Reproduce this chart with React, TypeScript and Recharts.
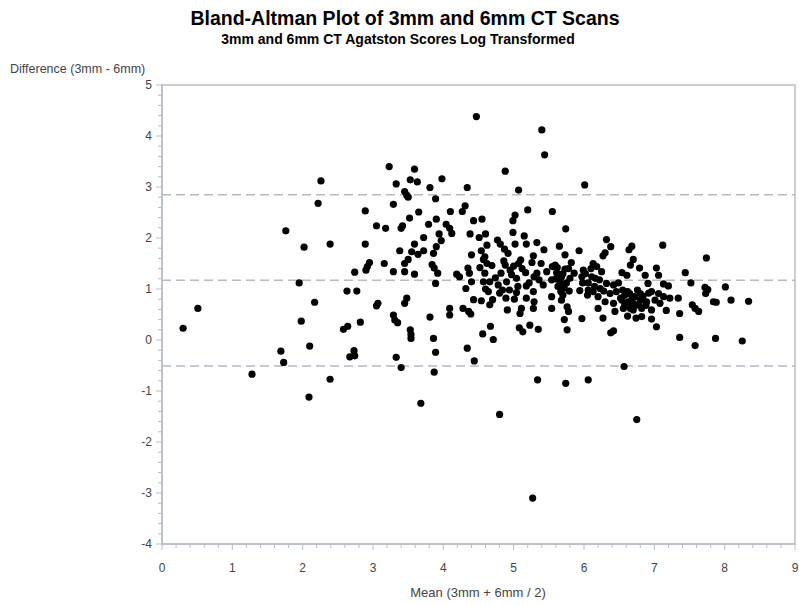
import React from 'react';
import { ScatterChart, Scatter, XAxis, YAxis, ReferenceLine, ReferenceArea } from 'recharts';

// mean of the two log scores (x) and their difference (y)
const meanScores = [
  0.30, 0.51, 1.28, 1.69, 1.73, 1.76, 1.95, 1.98, 2.02, 2.10, 2.09, 2.17, 2.22, 2.26, 2.39, 2.39,
  2.58, 2.64, 2.63, 2.74, 2.77, 2.82, 2.67, 2.74, 2.73, 2.89, 2.89, 2.90, 2.92, 2.95, 3.05, 3.05,
  3.07,
  4.47, 5.40, 5.44, 3.23, 3.59, 3.53, 3.63, 3.33, 3.98, 3.81, 4.34, 4.88, 5.07, 6.01, 3.45, 3.48,
  3.50, 3.89, 3.29, 4.31, 4.27, 4.10, 3.65, 5.20, 5.55, 5.02, 4.99, 3.52, 3.90, 3.79, 4.04, 4.43,
  4.55, 3.18, 3.40, 3.42, 4.09, 4.12, 4.38, 4.60, 4.99, 5.74, 3.94, 3.72, 3.97, 4.51, 4.77, 5.15,
  3.59, 3.90, 4.62, 4.81, 5.02, 5.18, 5.33, 5.65, 3.38, 3.55, 3.72, 3.86, 4.40, 4.54, 4.87, 4.92,
  5.43, 5.93, 3.64, 3.16, 3.50, 4.57, 4.59, 5.10, 5.28, 5.73, 3.45, 3.84, 4.62, 5.07, 5.39, 5.59,
  5.82, 4.35, 4.69, 4.88, 3.29, 3.45, 3.59, 3.87, 3.92, 4.19, 4.23, 4.37, 4.59, 4.82, 4.95, 4.97,
  5.17, 5.33, 5.47, 5.55, 5.61, 5.73, 5.86, 5.99, 3.89, 4.40, 4.66, 4.90, 5.04, 5.29, 5.54, 5.68,
  5.80, 5.97, 6.06, 4.32, 4.57, 4.78, 5.18, 5.42, 5.66, 5.79, 5.94, 3.48, 3.45, 4.64, 4.84, 5.04,
  5.28, 5.54, 5.67, 4.43, 4.54, 4.70, 4.89, 5.01, 5.18, 5.29, 4.66, 4.09, 4.28, 4.91, 5.11, 5.28,
  5.54, 5.76, 5.78, 3.29, 3.31, 3.35, 4.09, 4.36, 4.39, 5.09, 3.81, 5.72, 5.97, 4.67, 5.08, 5.13,
  5.23, 5.35, 5.76, 3.53, 3.54, 3.54, 3.86, 4.56, 4.71, 4.34, 3.89, 3.33, 4.44, 3.40, 3.87, 5.34,
  5.74, 6.06, 3.68, 4.80,
  6.32, 6.38, 6.30, 6.27, 6.68, 6.64, 6.70, 6.66, 7.12, 7.74, 6.13, 6.18, 6.25, 6.79, 7.03, 7.06,
  6.54, 6.61, 6.87, 7.44, 6.11, 6.16, 6.32, 6.42, 6.49, 6.91, 7.13, 7.20, 7.52, 7.72, 7.76, 8.01,
  7.73, 6.13, 6.23, 6.20, 6.37, 6.46, 6.58, 6.65, 6.72, 6.80, 6.96, 7.06, 7.13, 7.22, 7.34, 6.30,
  6.42, 6.54, 6.63, 6.70, 6.80, 6.89, 7.01, 7.08, 7.84, 7.88, 8.09, 8.34, 6.20, 6.44, 6.56, 6.70,
  6.82, 6.96, 7.17, 7.36, 7.54, 7.58, 7.63, 6.27, 6.62, 6.74, 6.82, 6.96, 7.03, 6.38, 6.42, 7.36,
  7.58, 7.87, 8.25, 6.57, 6.75,
  5.27,
  // points hidden inside the densest clusters
  5.60, 5.63, 5.66, 5.70, 5.72, 5.75, 5.70, 5.78, 5.62, 5.68,
  6.52, 6.58, 6.62, 6.68, 6.72, 6.76, 6.78, 6.84, 6.88, 6.92, 6.55, 6.66,
  5.98, 6.02, 6.06, 6.10, 6.15, 6.22, 6.28, 6.05,
  4.74, 4.80, 4.86, 4.94, 5.00, 5.06, 5.12, 5.22, 5.26, 5.36, 4.60, 4.52,
];

const diffScores = [
  0.23, 0.62, -0.67, -0.22, -0.44, 2.14, 1.12, 0.37, 1.82, -0.12, -1.12, 0.74, 2.68, 3.12, 1.88, -0.77,
  0.21, 0.27, 0.96, 1.33, 0.96, 0.35, -0.33, -0.31, -0.21, 2.53, 1.88, 1.37, 1.44, 1.52, 2.24, 0.67,
  0.72,
  4.38, 4.12, 3.63, 3.40, 3.35, 3.14, 3.10, 3.06, 3.16, 2.99, 2.99, 3.31, 2.94, 3.04, 2.91, 2.84,
  2.80, 2.77, 2.66, 2.63, 2.52, 2.52, 2.51, 2.55, 2.52, 2.45, 2.34, 2.39, 2.37, 2.27, 2.27, 2.34,
  2.37, 2.19, 2.19, 2.24, 2.19, 2.09, 2.08, 2.08, 2.11, 2.18, 2.08, 2.01, 1.95, 2.01, 1.96, 2.04,
  1.88, 1.83, 1.86, 1.88, 1.88, 1.88, 1.91, 1.84, 1.75, 1.73, 1.75, 1.70, 1.67, 1.75, 1.78, 1.70,
  1.77, 1.75, 1.68, 1.50, 1.58, 1.58, 1.63, 1.57, 1.65, 1.67, 1.50, 1.48, 1.50, 1.50, 1.50, 1.47,
  1.52, 1.41, 1.46, 1.47, 1.34, 1.34, 1.29, 1.41, 1.31, 1.29, 1.24, 1.31, 1.31, 1.31, 1.37, 1.28,
  1.32, 1.31, 1.34, 1.44, 1.32, 1.39, 1.31, 1.37, 1.11, 1.14, 1.14, 1.14, 1.21, 1.24, 1.18, 1.24,
  1.21, 1.24, 1.12, 1.01, 1.14, 1.08, 1.06, 1.08, 1.08, 0.96, 0.97, 0.82, 0.72, 0.95, 0.98, 0.93,
  0.95, 0.85, 0.95, 0.79, 0.77, 0.79, 0.82, 0.80, 0.82, 0.75, 0.69, 0.62, 0.62, 0.59, 0.62, 0.62,
  0.62, 0.65, 0.56, 0.49, 0.39, 0.34, 0.49, 0.56, 0.51, 0.52, 0.45, 0.40, 0.42, 0.27, 0.24, 0.16,
  0.29, 0.21, 0.20, 0.20, 0.11, 0.03, 0.03, 0.12, 0.01, -0.16, -0.24, -0.34, -0.41, -0.54, -0.63, -0.78,
  -0.85, -0.78, -1.24, -1.46,
  1.97, 1.83, 1.71, 1.65, 1.84, 1.77, 1.58, 1.47, 1.86, 1.61, 1.50, 1.44, 1.34, 1.41, 1.41, 1.27,
  1.32, 1.27, 1.27, 1.32, 1.24, 1.21, 1.11, 1.08, 1.12, 1.11, 1.10, 1.06, 1.12, 1.03, 0.99, 1.04,
  0.91, 0.95, 1.01, 0.85, 0.91, 0.95, 0.88, 0.91, 0.85, 0.91, 0.95, 0.91, 0.85, 0.82, 0.82, 0.75,
  0.72, 0.78, 0.75, 0.72, 0.78, 0.75, 0.78, 0.72, 0.75, 0.74, 0.78, 0.76, 0.62, 0.56, 0.62, 0.59,
  0.62, 0.59, 0.58, 0.52, 0.69, 0.62, 0.56, 0.43, 0.47, 0.43, 0.46, 0.41, 0.26, 0.14, 0.18, 0.05,
  -0.11, 0.03, -0.02, -0.52, -1.56,
  -3.10,
  1.20, 1.05, 1.15, 1.30, 1.02, 1.12, 0.88, 1.40, 1.42, 0.78,
  0.82, 0.70, 0.95, 0.80, 0.66, 0.98, 0.70, 0.86, 0.68, 0.92, 0.98, 0.62,
  1.12, 1.30, 0.98, 1.40, 1.05, 1.18, 0.96, 0.88,
  1.22, 0.92, 1.55, 0.98, 1.45, 1.05, 1.40, 1.12, 1.52, 1.18, 1.00, 1.42,
];

// upper limit, mean difference, lower limit
const agreementLines = [2.85, 1.17, -0.51];

const xMajorTicks = [0, 1, 2, 3, 4, 5, 6, 7, 8, 9];
const yMajorTicks = [-4, -3, -2, -1, 0, 1, 2, 3, 4, 5];

const withMinor = (majors: number[]) => {
  const out: number[] = [];
  majors.forEach((m, i) => {
    out.push(m);
    if (i < majors.length - 1) for (let k = 1; k < 5; k++) out.push(+(m + k * 0.2).toFixed(1));
  });
  return out;
};

const data = meanScores.map((m, i) => ({ mean: m, diff: diffScores[i] }));

const axisColor = '#b9bec4';
const textColor = '#444';
const font = '"Liberation Sans", Arial, sans-serif';

const isMajor = (v: number) => Math.abs(v - Math.round(v)) < 1e-6;

const XTick = (props: any) => {
  const { x, y, payload } = props;
  const major = isMajor(payload.value);
  return (
    <g>
      <line x1={x} y1={y} x2={x} y2={y + (major ? 6 : 4)} stroke={axisColor} />
      {major && (
        <text x={x} y={y + 28} textAnchor="middle" fontSize={12} fill={textColor} fontFamily={font}>
          {Math.round(payload.value)}
        </text>
      )}
    </g>
  );
};

const YTick = (props: any) => {
  const { x, y, payload } = props;
  const major = isMajor(payload.value);
  return (
    <g>
      <line x1={x} y1={y} x2={x - (major ? 6 : 4)} y2={y} stroke={axisColor} />
      {major && (
        <text x={x - 10} y={y + 4} textAnchor="end" fontSize={12} fill={textColor} fontFamily={font}>
          {Math.round(payload.value)}
        </text>
      )}
    </g>
  );
};

const Dot = (props: any) => <circle cx={props.cx} cy={props.cy} r={3.6} fill="#000" />;

export default function App() {
  return (
    <div style={{ position: 'absolute', left: 0, top: 0, width: 799, height: 606, background: '#fff' }}>
      <svg width={799} height={606} style={{ position: 'absolute', left: 0, top: 0 }}>
        <text x={405} y={25} textAnchor="middle" fontSize={19.5} fontWeight="bold" fontFamily={font} fill="#000">
          Bland-Altman Plot of 3mm and 6mm CT Scans
        </text>
        <text x={398} y={44} textAnchor="middle" fontSize={14} fontWeight="bold" fontFamily={font} fill="#000">
          3mm and 6mm CT Agatston Scores Log Transformed
        </text>
        <text x={10} y={73} fontSize={12.5} fontFamily={font} fill={textColor}>
          Difference (3mm - 6mm)
        </text>
        <text x={478} y={597} textAnchor="middle" fontSize={13} fontFamily={font} fill={textColor}>
          Mean (3mm + 6mm / 2)
        </text>
      </svg>
      <div style={{ position: 'absolute', left: 0, top: 0 }}>
        <ScatterChart width={799} height={606} margin={{ top: 85, right: 4, bottom: 32, left: 122 }}>
          <ReferenceArea x1={0} x2={9} y1={-4} y2={5} fill="none" stroke={axisColor} strokeWidth={1.5} />
          <XAxis
            type="number"
            dataKey="mean"
            domain={[0, 9]}
            ticks={withMinor(xMajorTicks)}
            interval={0}
            height={30}
            tickSize={0}
            tickMargin={0}
            axisLine={{ stroke: axisColor, strokeWidth: 1.5 }}
            tick={<XTick />}
          />
          <YAxis
            type="number"
            dataKey="diff"
            domain={[-4, 5]}
            ticks={withMinor(yMajorTicks)}
            interval={0}
            width={40}
            tickSize={0}
            tickMargin={0}
            axisLine={{ stroke: axisColor, strokeWidth: 1.5 }}
            tick={<YTick />}
          />
          {agreementLines.map((v) => (
            <ReferenceLine key={v} y={v} stroke="#b3bac2" strokeWidth={1.5} strokeDasharray="9 5" />
          ))}
          <Scatter data={data} shape={<Dot />} isAnimationActive={false} />
        </ScatterChart>
      </div>
    </div>
  );
}
